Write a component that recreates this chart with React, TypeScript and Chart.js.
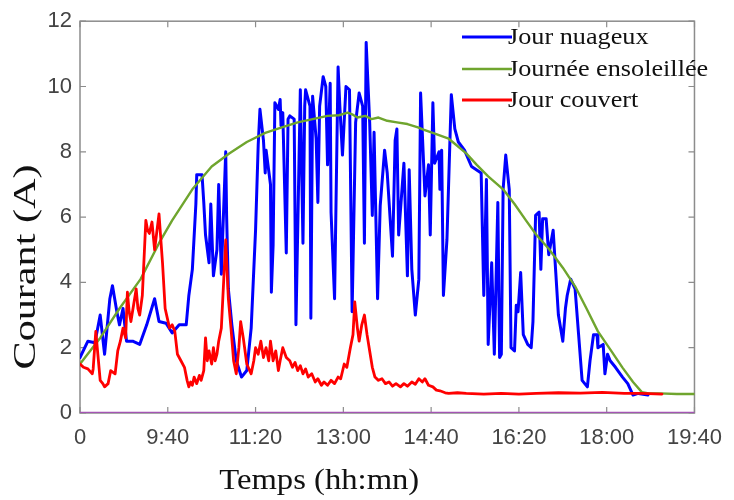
import React, { useEffect, useRef } from "react";
import { Chart, registerables } from "chart.js";

Chart.register(...registerables);

// Time axis: minutes since midnight, 8:00 -> 19:40
const tickMinutes = [480, 580, 680, 780, 880, 980, 1080, 1180];
const tickLabels = ["0", "9:40", "11:20", "13:00", "14:40", "16:20", "18:00", "19:40"];

// Jour nuageux (blue)
const nuageuxTimes = [
  480, 489, 497, 503, 508, 514, 517, 522, 525, 529, 533, 540, 548, 556, 565, 570, 578, 585, 593, 601,
  604, 608, 612, 613, 619, 621, 623, 627, 629, 632, 636, 638, 641, 646, 647, 649, 653, 658, 664, 670,
  675, 680, 683, 685, 689, 691, 692, 697, 698, 700, 702, 706, 708, 709, 711, 715, 717, 719, 724, 726,
  731, 734, 736, 737, 742, 743, 745, 749, 751, 753, 757, 760, 762, 765, 766, 770, 774, 776, 779, 783,
  787, 790, 794, 798, 802, 804, 806, 810, 813, 815, 819, 822, 827, 830, 836, 839, 841, 843, 849, 853,
  855, 858, 862, 866, 868, 873, 877, 879, 882, 884, 889, 890, 892, 894, 898, 903, 907, 911, 918, 926,
  937, 940, 943, 945, 949, 952, 956, 958, 960, 962, 965, 969, 971, 975, 977, 979, 982, 985, 990, 994,
  996, 999, 1003, 1005, 1007, 1011, 1014, 1019, 1022, 1025, 1030, 1033, 1035, 1039, 1044, 1048, 1052, 1058, 1061, 1065,
  1069, 1070, 1076, 1078, 1081, 1084, 1090, 1098, 1104, 1110, 1116, 1127,
];
const nuageuxValues = [
  1.7, 2.2, 2.15, 3.0, 1.8, 3.5, 3.9, 3.1, 2.7, 3.2, 2.2, 2.2, 2.1, 2.7, 3.5, 2.8, 2.75, 2.45, 2.7, 2.7,
  3.6, 4.4, 6.4, 7.3, 7.3, 6.45, 5.45, 4.6, 6.4, 4.2, 5.0, 7.0, 4.25, 8.0, 6.06, 3.8, 2.7, 1.6, 1.1, 1.3,
  2.6, 5.6, 8.2, 9.3, 8.35, 7.35, 8.05, 7.0, 3.7, 5.15, 9.5, 9.3, 9.6, 8.8, 9.2, 4.9, 9.0, 9.1, 9.0, 2.7,
  9.9, 5.2, 9.4, 9.9, 9.4, 2.9, 9.7, 8.4, 6.45, 9.4, 10.3, 10.0, 7.6, 10.1, 6.15, 3.5, 10.6, 9.4, 7.9, 10.0,
  9.9, 3.1, 8.9, 9.8, 9.4, 5.2, 11.35, 8.9, 6.05, 8.6, 3.5, 6.35, 8.05, 7.35, 4.8, 8.35, 8.7, 5.45, 7.65, 4.2,
  7.45, 4.4, 3.0, 4.1, 9.8, 6.65, 7.6, 5.45, 9.5, 7.65, 8.0, 6.85, 8.05, 3.6, 5.3, 9.75, 8.7, 8.3, 8.05, 7.55,
  7.35, 3.6, 7.15, 2.1, 4.6, 1.8, 6.45, 1.7, 1.8, 6.85, 7.9, 6.85, 2.0, 1.9, 3.3, 3.1, 4.3, 2.4, 2.1, 2.0,
  2.8, 6.05, 6.15, 4.4, 5.95, 5.95, 4.85, 5.6, 4.3, 3.0, 2.2, 3.2, 3.6, 4.1, 3.8, 2.4, 1.0, 0.8, 1.6, 2.4,
  2.4, 2.0, 2.1, 1.2, 1.8, 1.6, 1.4, 1.1, 0.9, 0.55, 0.6, 0.55,
];

// Journée ensoleillée (green)
const ensoleilleeTimes = [
  480, 503, 525, 549, 570, 585, 608, 630, 650, 670, 691, 710, 728, 745, 762, 775, 785, 790, 796, 805,
  812, 820, 830, 841, 853, 865, 872, 885, 900, 909, 920, 932, 945, 962, 975, 988, 1000, 1014, 1030, 1044,
  1057, 1070, 1084, 1098, 1110, 1120, 1128, 1140, 1160, 1180,
];
const ensoleilleeValues = [
  1.5, 2.3, 3.2, 4.1, 5.2, 5.9, 6.85, 7.55, 7.95, 8.3, 8.58, 8.75, 8.9, 9.0, 9.1, 9.12, 9.2, 9.15, 9.05, 9.1,
  9.0, 9.05, 8.95, 8.9, 8.85, 8.75, 8.67, 8.55, 8.4, 8.2, 7.95, 7.6, 7.25, 6.85, 6.4, 5.9, 5.45, 5.03, 4.45, 3.88,
  3.2, 2.5, 1.95, 1.39, 0.95, 0.64, 0.6, 0.6, 0.58, 0.58,
];

// Jour couvert (red)
const couvertTimes = [
  480, 484, 489, 494, 495, 498, 503, 506, 508, 512, 515, 520, 523, 526, 529, 532, 534, 536, 538, 541,
  544, 546, 548, 551, 555, 557, 559, 562, 565, 570, 574, 577, 582, 585, 588, 591, 595, 599, 602, 604,
  606, 608, 610, 613, 616, 618, 621, 623, 625, 627, 630, 632, 634, 636, 638, 641, 646, 649, 652, 655,
  658, 661, 663, 666, 670, 675, 678, 680, 683, 686, 689, 692, 695, 697, 700, 703, 706, 708, 711, 715,
  719, 722, 725, 728, 731, 734, 737, 740, 744, 748, 751, 755, 758, 762, 766, 770, 774, 777, 781, 784,
  788, 791, 793, 796, 798, 801, 804, 807, 810, 813, 816, 820, 824, 828, 832, 836, 840, 845, 849, 853,
  858, 862, 866, 870, 873, 877, 882, 886, 890, 896, 900, 910, 920, 940, 960, 980, 1000, 1025, 1050, 1075,
  1100, 1120, 1143,
];
const couvertValues = [
  1.5, 1.4, 1.35, 1.2, 1.35, 2.5, 1.0, 0.9, 0.8, 0.9, 1.3, 1.2, 1.9, 2.2, 2.6, 2.3, 3.7, 3.1, 2.8, 3.3,
  3.8, 3.2, 3.0, 3.6, 5.9, 5.6, 5.5, 5.85, 5.0, 6.1, 4.6, 3.2, 2.6, 2.7, 2.5, 1.8, 1.6, 1.4, 1.0, 0.8,
  0.95, 0.85, 1.1, 0.9, 1.15, 1.0, 1.3, 2.3, 1.6, 1.9, 1.5, 2.0, 1.6, 1.8, 2.2, 2.6, 5.3, 3.5, 2.6, 1.6,
  1.2, 2.0, 2.8, 2.3, 1.5, 1.2, 1.6, 2.0, 1.8, 2.2, 1.7, 2.0, 1.6, 2.2, 1.6, 1.9, 1.3, 1.6, 2.0, 1.7,
  1.6, 1.4, 1.55, 1.3, 1.45, 1.2, 1.35, 1.1, 1.2, 0.95, 1.05, 0.85, 0.95, 0.85, 1.0, 0.9, 1.1, 1.05, 1.5, 1.4,
  2.0, 2.4, 3.4, 2.6, 2.2, 2.7, 3.0, 2.4, 1.9, 1.4, 1.1, 1.0, 1.05, 0.9, 0.95, 0.82, 0.9, 0.8, 0.9, 0.82,
  0.95, 0.88, 1.05, 0.95, 1.05, 0.85, 0.8, 0.7, 0.68, 0.62, 0.6, 0.62, 0.6, 0.58, 0.6, 0.58, 0.6, 0.62, 0.61, 0.63,
  0.6, 0.6, 0.58,
];

// Baseline at zero current
const baseTimes = [480, 1180];
const baseValues = [0, 0];

const seriesLabels = ["Jour nuageux", "Journée ensoleillée", "Jour couvert"];
const seriesColors = ["#0000ff", "#6fa52e", "#ff0000"];

const toPoints = (xs: number[], ys: number[]) => xs.map((x, i) => ({ x, y: ys[i] }));

const SERIF = "'Liberation Serif', 'Times New Roman', Times, serif";
const SANS = "'Liberation Sans', Arial, Helvetica, sans-serif";

function drawStretched(
  ctx: CanvasRenderingContext2D,
  text: string,
  cx: number,
  cy: number,
  targetWidth: number,
  rotate: number
) {
  ctx.save();
  ctx.translate(cx, cy);
  if (rotate) ctx.rotate(rotate);
  const w = ctx.measureText(text).width;
  ctx.scale(targetWidth / w, 1);
  ctx.textAlign = "center";
  ctx.textBaseline = "middle";
  ctx.fillText(text, 0, 0);
  ctx.restore();
}

const framePlugin = {
  id: "frameAndTicks",
  beforeDatasetsDraw(chart: any) {
    const { ctx, chartArea: a, scales } = chart;
    ctx.save();
    ctx.strokeStyle = "#8c8c8c";
    ctx.lineWidth = 1.5;
    ctx.strokeRect(a.left, a.top, a.right - a.left, a.bottom - a.top);
    ctx.lineWidth = 1.2;
    const len = 6;
    ctx.beginPath();
    for (const t of scales.x.ticks) {
      const px = scales.x.getPixelForValue(t.value);
      ctx.moveTo(px, a.bottom);
      ctx.lineTo(px, a.bottom - len);
      ctx.moveTo(px, a.top);
      ctx.lineTo(px, a.top + len);
    }
    for (const t of scales.y.ticks) {
      const py = scales.y.getPixelForValue(t.value);
      ctx.moveTo(a.left, py);
      ctx.lineTo(a.left + len, py);
      ctx.moveTo(a.right, py);
      ctx.lineTo(a.right - len, py);
    }
    ctx.stroke();
    ctx.restore();
  },
  afterDraw(chart: any) {
    const { ctx, chartArea: a } = chart;
    ctx.save();
    ctx.fillStyle = "#111111";
    ctx.font = `30px ${SERIF}`;
    drawStretched(ctx, "Temps (hh:mn)", (a.left + a.right) / 2 - 68, 481, 200, 0);
    ctx.font = `32px ${SERIF}`;
    drawStretched(ctx, "Courant (A)", 27, 267, 205, -Math.PI / 2);

    // Legend
    const rows = [37, 69, 100];
    ctx.font = `23px ${SERIF}`;
    seriesLabels.forEach((label, i) => {
      ctx.strokeStyle = seriesColors[i];
      ctx.lineWidth = i === 1 ? 2.5 : 3;
      ctx.beginPath();
      ctx.moveTo(462, rows[i]);
      ctx.lineTo(512, rows[i]);
      ctx.stroke();
      ctx.save();
      ctx.translate(508, rows[i] + 1);
      ctx.scale(1.14, 1);
      ctx.fillStyle = "#111111";
      ctx.textAlign = "left";
      ctx.textBaseline = "middle";
      ctx.fillText(label, 0, 0);
      ctx.restore();
    });
    ctx.restore();
  },
};

export default function App() {
  const canvasRef = useRef<HTMLCanvasElement | null>(null);

  useEffect(() => {
    if (!canvasRef.current) return;
    const chart = new Chart(canvasRef.current, {
      type: "line",
      data: {
        datasets: [
          {
            label: seriesLabels[0],
            data: toPoints(nuageuxTimes, nuageuxValues),
            borderColor: seriesColors[0],
            borderWidth: 3,
            order: 3,
          },
          {
            label: seriesLabels[1],
            data: toPoints(ensoleilleeTimes, ensoleilleeValues),
            borderColor: seriesColors[1],
            borderWidth: 2.4,
            order: 2,
          },
          {
            label: seriesLabels[2],
            data: toPoints(couvertTimes, couvertValues),
            borderColor: seriesColors[2],
            borderWidth: 2.8,
            order: 1,
          },
          {
            label: "zero",
            data: toPoints(baseTimes, baseValues),
            borderColor: "#a455b4",
            borderWidth: 2.5,
            order: 0,
          },
        ],
      },
      options: {
        responsive: false,
        animation: false,
        events: [],
        elements: {
          point: { radius: 0 },
          line: { tension: 0, borderJoinStyle: "round", borderCapStyle: "round" },
        },
        layout: { padding: { top: 18, right: 34, left: 0, bottom: 0 } },
        plugins: {
          legend: { display: false },
          tooltip: { enabled: false },
        },
        scales: {
          x: {
            type: "linear",
            min: 480,
            max: 1180,
            afterBuildTicks: (scale: any) => {
              scale.ticks = tickMinutes.map((v) => ({ value: v }));
            },
            afterFit: (scale: any) => {
              scale.height = 87;
            },
            grid: { display: false, drawTicks: false },
            border: { display: false },
            ticks: {
              padding: 12,
              maxRotation: 0,
              autoSkip: false,
              color: "#444444",
              font: { family: SANS, size: 22 },
              callback: (v: any) => tickLabels[tickMinutes.indexOf(Number(v))] ?? "",
            },
          },
          y: {
            min: 0,
            max: 12,
            afterFit: (scale: any) => {
              scale.width = 80;
            },
            grid: { display: false, drawTicks: false },
            border: { display: false },
            ticks: {
              stepSize: 2,
              padding: 8,
              color: "#444444",
              font: { family: SANS, size: 22 },
            },
          },
        },
      },
      plugins: [framePlugin],
    });
    return () => chart.destroy();
  }, []);

  return (
    <div style={{ position: "absolute", left: 0, top: 0, width: 734, height: 500, background: "#ffffff" }}>
      <canvas ref={canvasRef} width={734} height={500} style={{ width: 734, height: 500 }} />
    </div>
  );
}
